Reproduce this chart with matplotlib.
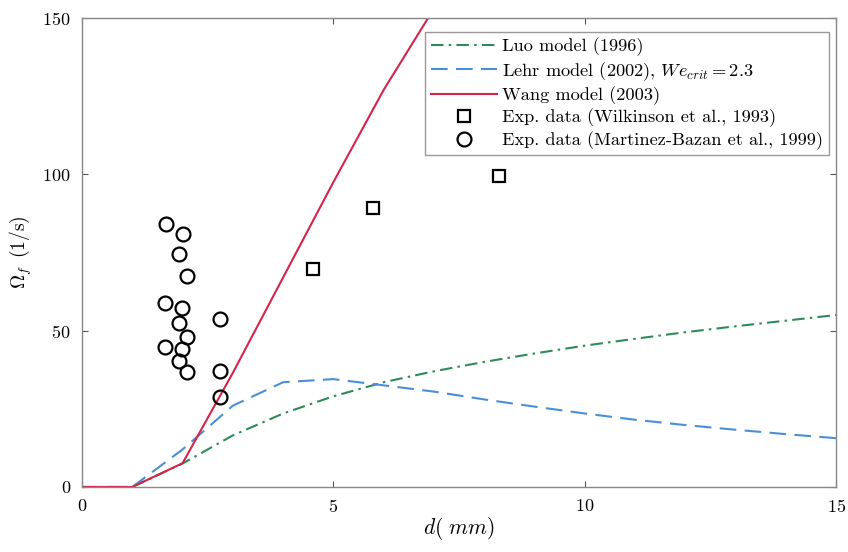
import matplotlib
matplotlib.use('Agg')
import matplotlib.pyplot as plt

# Breakage frequency vs. bubble diameter: model curves and experimental data
d = [0, 1, 2, 3, 4, 5, 6, 7, 8, 9, 10, 11, 12, 13, 14, 15]
luo = [0, 0, 7.5, 16.5, 23.5, 29, 33.5, 37, 40, 42.7, 45.2, 47.4, 49.5, 51.4, 53.2, 55]
lehr = [0, 0, 12, 26, 33.5, 34.5, 32.5, 30.5, 28, 25.7, 23.5, 21.5, 19.8, 18.3, 16.9, 15.6]

d_wang = [0, 1, 2, 3, 4, 5, 6, 7]
wang = [0, 0, 7.6, 36.5, 67, 97.5, 127, 153]

# Wilkinson et al. (1993)
d_wilk = [4.60, 5.79, 8.29]
om_wilk = [69.7, 89.2, 99.5]

# Martinez-Bazan et al. (1999)
d_mb = [1.67, 2.00, 1.92, 2.08, 1.66, 1.99, 1.93, 2.74, 2.08, 1.66, 1.99, 1.92, 2.08, 2.74, 2.74]
om_mb = [84.1, 80.8, 74.4, 67.5, 58.7, 57.2, 52.3, 53.6, 47.9, 44.9, 44.1, 40.2, 36.7, 37.2, 28.9]

plt.rcParams['font.family'] = 'serif'
plt.rcParams['font.serif'] = ['cmr10', 'DejaVu Serif']
plt.rcParams['mathtext.fontset'] = 'cm'
plt.rcParams['axes.formatter.use_mathtext'] = True
plt.rcParams['font.size'] = 11

fig = plt.figure(figsize=(8.48, 5.52), dpi=100)
ax = fig.add_axes([0.0967, 0.1178, 0.8893, 0.8496])

ax.plot(d, luo, color='#2e8b57', linestyle=(0, (6, 2.5, 1.2, 2.5)), lw=1.5,
        label='Luo model (1996)')
ax.plot(d, lehr, color='#4a8fd6', linestyle=(0, (8, 4)), lw=1.5,
        label=r'Lehr model (2002), $We_{crit}=2.3$')
ax.plot(d_wang, wang, color='#d6234a', lw=1.5, label='Wang model (2003)')
ax.plot(d_wilk, om_wilk, linestyle='none', marker='s', ms=8, mfc='none',
        mec='black', mew=1.6, label='Exp. data (Wilkinson et al., 1993)')
ax.plot(d_mb, om_mb, linestyle='none', marker='o', ms=10, mfc='none',
        mec='black', mew=1.6, label='Exp. data (Martinez-Bazan et al., 1999)')

ax.set_xlim(0, 15)
ax.set_ylim(0, 150)
ax.set_xticks([0, 5, 10, 15])
ax.set_yticks([0, 50, 100, 150])
ax.tick_params(direction='in', top=True, right=True, length=4, color='#555555',
               labelsize=13, pad=8)
for s in ax.spines.values():
    s.set_color('#888888')
    s.set_linewidth(1.0)

ax.set_xlabel(r'$d(\ mm)$', fontsize=15.5, labelpad=0)
ax.set_ylabel(r'$\Omega_f\ \,(1/\mathrm{s})$', fontsize=14, labelpad=6)

leg = ax.legend(loc='upper right', bbox_to_anchor=(0.99, 0.97), fontsize=13.2,
                handlelength=3.6, fancybox=False, framealpha=1, edgecolor='#999999',
                borderpad=0.3, labelspacing=0.2, handletextpad=0.3, borderaxespad=0)
leg.get_frame().set_linewidth(1.0)

fig.savefig('out.png', dpi=100)
